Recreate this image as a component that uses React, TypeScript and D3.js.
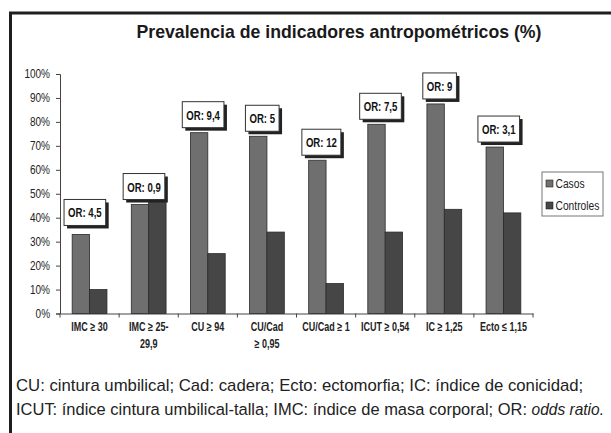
import React, { useEffect, useRef } from 'react';
import * as d3 from 'd3';

const categories = ['IMC ≥ 30', 'IMC ≥ 25-29,9', 'CU ≥ 94', 'CU/Cad ≥ 0,95', 'CU/Cad ≥ 1', 'ICUT ≥ 0,54', 'IC ≥ 1,25', 'Ecto ≤ 1,15'];
const categoryLines = [['IMC ≥ 30'], ['IMC ≥ 25-', '29,9'], ['CU ≥ 94'], ['CU/Cad', '≥ 0,95'], ['CU/Cad ≥ 1'], ['ICUT ≥ 0,54'], ['IC ≥ 1,25'], ['Ecto ≤ 1,15']];
const casos = [33, 45.5, 75.5, 74, 64, 79, 87.5, 69.5];
const controles = [10, 47, 25, 34, 12.5, 34, 43.5, 42];
const oddsRatios = ['OR: 4,5', 'OR: 0,9', 'OR: 9,4', 'OR: 5', 'OR: 12', 'OR: 7,5', 'OR: 9', 'OR: 3,1'];
const seriesNames = ['Casos', 'Controles'];
const yTicks = [0, 10, 20, 30, 40, 50, 60, 70, 80, 90, 100];

const sans = '"Liberation Sans", Arial, sans-serif';

// the original uses a condensed face, so squeeze regular text horizontally
function narrowText(parent, x, y, sx, size) {
  return parent.append('text')
    .attr('transform', `translate(${x},${y}) scale(${sx},1)`)
    .style('font-family', sans)
    .style('font-size', size + 'px')
    .attr('fill', '#222');
}

function App() {
  const ref = useRef(null);

  useEffect(() => {
    const width = 611;
    const height = 433;
    const colors = { Casos: '#6f6f6f', Controles: '#464646' };

    const svg = d3.select(ref.current);
    svg.selectAll('*').remove();
    svg.attr('width', width).attr('height', height);

    svg.append('rect').attr('width', width).attr('height', height).attr('fill', '#fff');

    // outer frame: top and left only, rest is cut off
    svg.append('path')
      .attr('d', `M10.5,${height} V13 H${width}`)
      .attr('fill', 'none')
      .attr('stroke', '#1e1e1e')
      .attr('stroke-width', 3);

    svg.append('text')
      .attr('x', 339)
      .attr('y', 38)
      .attr('text-anchor', 'middle')
      .style('font-family', sans)
      .style('font-weight', 'bold')
      .style('font-size', '17.7px')
      .attr('fill', '#1a1a1a')
      .text('Prevalencia de indicadores antropométricos (%)');

    const x = d3.scaleBand().domain(categories).range([60, 533]).padding(0);
    const xInner = d3.scaleBand().domain(seriesNames).range([0, x.bandwidth()]).paddingInner(0).paddingOuter(0.7);
    const y = d3.scaleLinear().domain([0, 100]).range([313.5, 74]);

    // y axis
    const yAxis = svg.append('g').attr('transform', 'translate(60,0)')
      .call(d3.axisLeft(y).tickValues(yTicks).tickSize(4).tickFormat(() => ''));
    yAxis.select('.domain').attr('stroke', '#444');
    yAxis.selectAll('.tick line').attr('stroke', '#444');
    yTicks.forEach(t => {
      narrowText(svg, 50, y(t) + 4, 0.8, 12.5)
        .attr('text-anchor', 'end')
        .text(t + '%');
    });

    // x axis
    const xAxis = svg.append('g').attr('transform', `translate(0,${y(0)})`)
      .call(d3.axisBottom(x).tickValues([]).tickSizeOuter(0));
    xAxis.select('.domain').attr('stroke', '#444');
    const bounds = categories.map(c => x(c)).concat([x.range()[1]]);
    svg.append('g').selectAll('line').data(bounds).join('line')
      .attr('x1', d => d).attr('x2', d => d)
      .attr('y1', y(0)).attr('y2', y(0) + 4)
      .attr('stroke', '#444');

    categories.forEach((cat, i) => {
      const t = narrowText(svg, x(cat) + x.bandwidth() / 2, 331, 0.72, 12.5)
        .attr('text-anchor', 'middle')
        .style('font-weight', 'bold');
      categoryLines[i].forEach((line, j) => {
        t.append('tspan').attr('x', 0).attr('y', j * 17).text(line);
      });
    });

    // bars
    const groups = svg.append('g').selectAll('g').data(categories).join('g')
      .attr('transform', d => `translate(${x(d)},0)`);
    groups.selectAll('rect')
      .data((d, i) => [{ key: 'Casos', value: casos[i] }, { key: 'Controles', value: controles[i] }])
      .join('rect')
      .attr('x', d => xInner(d.key))
      .attr('y', d => y(d.value))
      .attr('width', xInner.bandwidth())
      .attr('height', d => y(0) - y(d.value))
      .attr('fill', d => colors[d.key])
      .attr('stroke', '#2a2a2a')
      .attr('stroke-width', 0.8);

    // OR call-outs
    const orScale = 0.74;
    categories.forEach((cat, i) => {
      const cx = x(cat) + xInner('Casos') + xInner.bandwidth() / 2 + 4;
      const bottom = y(casos[i]) - (i === 0 ? 9 : 5);
      const g = svg.append('g');
      const label = narrowText(g, cx, bottom - 8, orScale, 13)
        .attr('text-anchor', 'middle')
        .style('font-weight', 'bold')
        .attr('fill', '#111')
        .text(oddsRatios[i]);
      const w = label.node().getComputedTextLength() * orScale + 8;
      const h = 26;
      g.insert('rect', 'text')
        .attr('x', cx - w / 2 + 3)
        .attr('y', bottom - h + 3)
        .attr('width', w)
        .attr('height', h)
        .attr('fill', '#222');
      g.insert('rect', 'text')
        .attr('x', cx - w / 2)
        .attr('y', bottom - h)
        .attr('width', w)
        .attr('height', h)
        .attr('fill', '#fff')
        .attr('stroke', '#333')
        .attr('stroke-width', 1);
    });

    // legend
    const legend = svg.append('g').attr('transform', 'translate(542,172)');
    legend.append('rect')
      .attr('width', 61).attr('height', 44)
      .attr('fill', '#fff').attr('stroke', '#777').attr('stroke-width', 1);
    seriesNames.forEach((name, i) => {
      legend.append('rect')
        .attr('x', 4).attr('y', 8 + i * 22)
        .attr('width', 7).attr('height', 7)
        .attr('fill', colors[name]).attr('stroke', '#222').attr('stroke-width', 0.6);
      narrowText(legend, 13.5, 16 + i * 22, 0.82, 12.5).text(name);
    });

    // footnote
    const l1 = narrowText(svg, 16, 391, 0.985, 17);
    l1.text('CU: cintura umbilical; Cad: cadera; Ecto: ectomorfia; IC: índice de conicidad;');
    const l2 = narrowText(svg, 16, 415, 0.97, 17);
    l2.append('tspan').text('ICUT: índice cintura umbilical-talla; IMC: índice de masa corporal; OR: ');
    l2.append('tspan').style('font-style', 'italic').style('font-size', '16px').text('odds ratio.');
  }, []);

  return <svg ref={ref} style={{ position: 'absolute', left: 0, top: 0 }}></svg>;
}

export default App;
